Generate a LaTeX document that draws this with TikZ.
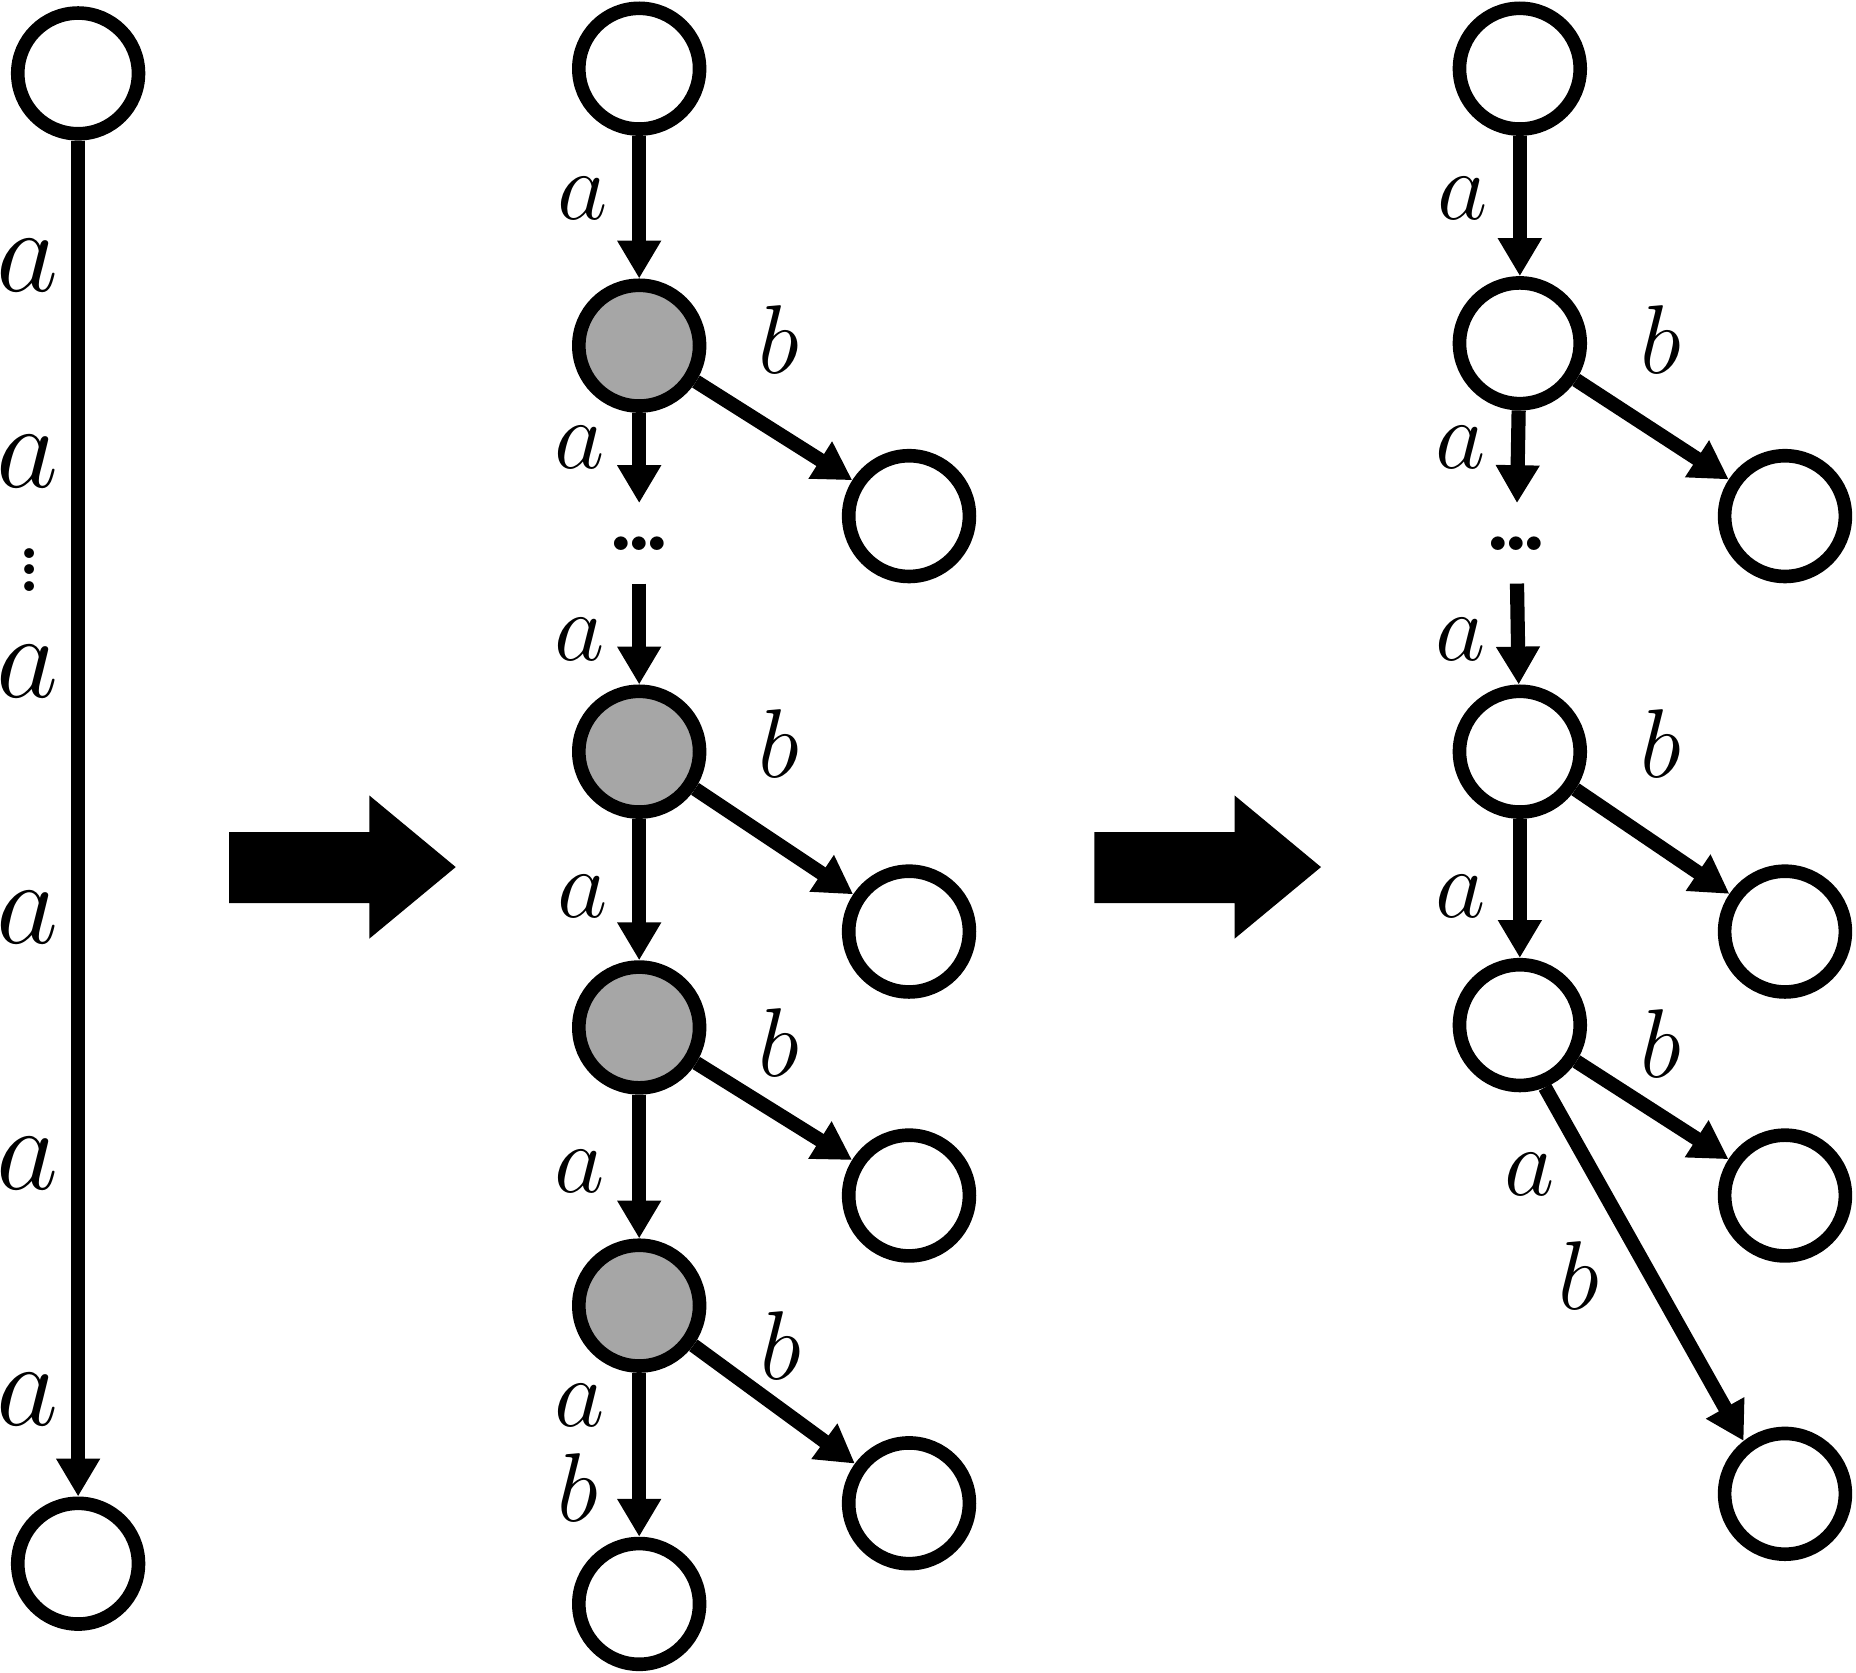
\RequirePackage{fix-cm}
\documentclass[tikz,border=0pt]{standalone}
\usetikzlibrary{arrows.meta}

\begin{document}
\begin{tikzpicture}[
  state/.style={circle, draw=black, fill=white, line width=1.15mm, minimum size=10.2mm, inner sep=0pt},
  visited/.style={state, fill=gray!70},
  edge/.style={line width=1.2mm, -{Triangle[length=3.2mm, width=3.5mm]}},
  lbl/.style={inner sep=0pt, font=\fontsize{23.5}{28}\selectfont},
  biglbl/.style={inner sep=0pt, font=\fontsize{29}{34}\selectfont},
  dotsbox/.style={inner sep=0pt, outer sep=0pt, minimum height=6.8mm, font=\fontsize{40}{44}\selectfont}
]
\useasboundingbox (0,0) rectangle (15.68,-14.13);

% left: a single long a-transition
\node[state] (l0) at (0.66,-0.62) {};
\node[state] (l1) at (0.66,-13.21) {};
\draw[edge] (l0) -- (l1);
\foreach \y [count=\i] in {-2.24,-3.90,-5.67,-7.75,-9.83,-11.82}
  \node[biglbl] (la\i) at (0.23,\y) {$a$};
\node[biglbl] (ldots) at (0.25,-4.71) {$\vdots$};

% big arrows between the three stages
\foreach \dx in {0,7.31}
  \fill[xshift=\dx cm] (1.935,-7.03) -- (3.12,-7.03) -- (3.12,-6.72) -- (3.85,-7.325)
    -- (3.12,-7.93) -- (3.12,-7.63) -- (1.935,-7.63) -- cycle;

% middle: unrolled a-chain, visited states in grey
\node[state]   (m0) at (5.40,-0.58) {};
\node[visited] (m1) at (5.40,-2.92) {};
\node[dotsbox] (mdots) at (5.40,-4.59) {.\kern-.14em.\kern-.14em.};
\node[visited] (m2) at (5.40,-6.35) {};
\node[visited] (m3) at (5.40,-8.68) {};
\node[visited] (m4) at (5.40,-11.03) {};
\node[state]   (m5) at (5.40,-13.55) {};
\node[state] (s1) at (7.68,-4.36) {};
\node[state] (s2) at (7.68,-7.87) {};
\node[state] (s3) at (7.68,-10.10) {};
\node[state] (s4) at (7.68,-12.70) {};

\draw[edge] (m0) -- (m1);
\draw[edge] (m1) -- (mdots);
\draw[edge] (mdots) -- (m2);
\draw[edge] (m2) -- (m3);
\draw[edge] (m3) -- (m4);
\draw[edge] (m4) -- (m5);
\draw[edge] (m1) -- (s1);
\draw[edge] (m2) -- (s2);
\draw[edge] (m3) -- (s3);
\draw[edge] (m4) -- (s4);

\node[lbl] (ma1) at (4.92,-1.68) {$a$};
\node[lbl] (ma2) at (4.90,-3.78) {$a$};
\node[lbl] (ma3) at (4.90,-5.40) {$a$};
\node[lbl] (ma4) at (4.92,-7.57) {$a$};
\node[lbl] (ma5) at (4.90,-9.90) {$a$};
\node[lbl] (ma6) at (4.90,-11.87) {$a$};
\node[lbl] (mb5) at (4.88,-12.57) {$b$};
\node[lbl] (mb1) at (6.58,-2.87) {$b$};
\node[lbl] (mb2) at (6.58,-6.28) {$b$};
\node[lbl] (mb3) at (6.58,-8.81) {$b$};
\node[lbl] (mb4) at (6.60,-11.37) {$b$};

% right: folded result
\node[state] (r0) at (12.84,-0.58) {};
\node[state] (r1) at (12.84,-2.90) {};
\node[dotsbox] (rdots) at (12.81,-4.59) {.\kern-.14em.\kern-.14em.};
\node[state] (r2) at (12.84,-6.35) {};
\node[state] (r3) at (12.84,-8.66) {};
\node[state] (t1) at (15.08,-4.36) {};
\node[state] (t2) at (15.08,-7.87) {};
\node[state] (t3) at (15.08,-10.10) {};
\node[state] (t4) at (15.08,-12.62) {};

\draw[edge] (r0) -- (r1);
\draw[edge] (r1) -- (rdots);
\draw[edge] (rdots) -- (r2);
\draw[edge] (r2) -- (r3);
\draw[edge] (r1) -- (t1);
\draw[edge] (r2) -- (t2);
\draw[edge] (r3) -- (t3);
\draw[edge] (r3.-68) -- (t4.128);

\node[lbl] (ra1) at (12.36,-1.68) {$a$};
\node[lbl] (ra2) at (12.34,-3.78) {$a$};
\node[lbl] (ra3) at (12.34,-5.40) {$a$};
\node[lbl] (ra4) at (12.34,-7.57) {$a$};
\node[lbl] (ra5) at (12.92,-9.92) {$a$};
\node[lbl] (rb5) at (13.34,-10.78) {$b$};
\node[lbl] (rb1) at (14.03,-2.87) {$b$};
\node[lbl] (rb2) at (14.03,-6.28) {$b$};
\node[lbl] (rb3) at (14.03,-8.82) {$b$};

\end{tikzpicture}
\end{document}
